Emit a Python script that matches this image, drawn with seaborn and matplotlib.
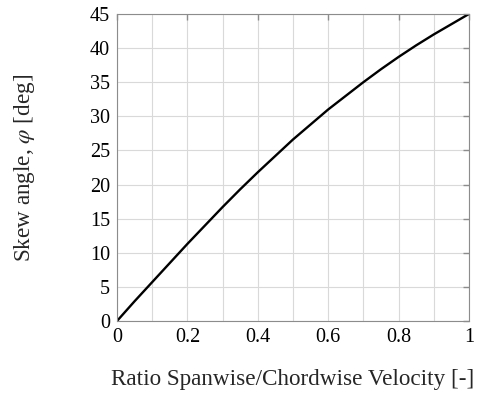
import matplotlib
matplotlib.use("Agg")
import matplotlib.pyplot as plt
import seaborn as sns
import pandas as pd

ratio = [0.0, 0.05, 0.1, 0.15, 0.2, 0.25, 0.3, 0.35, 0.4, 0.45, 0.5,
         0.55, 0.6, 0.65, 0.7, 0.75, 0.8, 0.85, 0.9, 0.95, 1.0]
skew_deg = [0.0, 2.9, 5.7, 8.5, 11.3, 14.0, 16.7, 19.3, 21.8, 24.2, 26.6,
            28.8, 31.0, 33.0, 35.0, 36.9, 38.7, 40.4, 42.0, 43.5, 45.0]
xticks = [0, 0.2, 0.4, 0.6, 0.8, 1]
xtick_labels = ["0", "0.2", "0.4", "0.6", "0.8", "1"]
yticks = [0, 5, 10, 15, 20, 25, 30, 35, 40, 45]

sns.set_theme(style="white")
plt.rcParams["font.family"] = ["Liberation Serif", "DejaVu Serif"]
plt.rcParams["mathtext.fontset"] = "stix"

df = pd.DataFrame({"ratio": ratio, "skew": skew_deg})

fig = plt.figure(figsize=(4.78, 3.94), dpi=100)
ax = fig.add_axes([0.2448, 0.1853, 0.981 - 0.2448, 0.9645 - 0.1853])
sns.lineplot(data=df, x="ratio", y="skew", ax=ax, color="black", linewidth=1.7)

ax.set_xlim(0, 1)
ax.set_ylim(0, 45)
ax.set_xticks(xticks)
ax.set_xticklabels(xtick_labels)
ax.set_yticks(yticks)
ax.set_xticks([0.1, 0.3, 0.5, 0.7, 0.9], minor=True)
ax.grid(True, which="both", color="#d9d9d9", linewidth=0.8)
ax.set_axisbelow(True)
for s in ax.spines.values():
    s.set_color("#8c8c8c")
    s.set_linewidth(0.8)
ax.tick_params(axis="both", which="major", direction="in", length=4, width=1.0,
               color="#8c8c8c", top=True, right=True, labelsize=14.5,
               labelcolor="black", pad=5)
ax.tick_params(axis="both", which="minor", length=0)
ax.set_xlabel("Ratio Spanwise/Chordwise Velocity [-]", fontsize=16.7, labelpad=16)
ax.set_ylabel(r"Skew angle, $\varphi$ [deg]", fontsize=16.7, labelpad=38)

fig.savefig("out.png", dpi=100)
